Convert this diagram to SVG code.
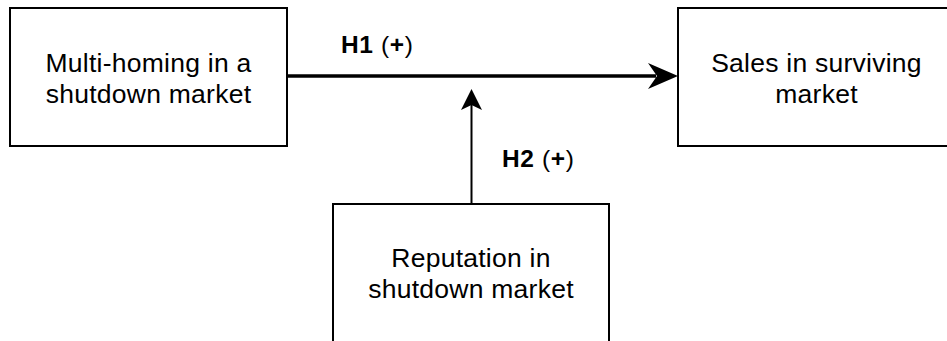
<svg xmlns="http://www.w3.org/2000/svg" width="947" height="341" viewBox="0 0 947 341">
<style>
.box{fill:#fff;stroke:#000;stroke-width:2}
.t{font-family:"Liberation Sans",Arial,Helvetica,sans-serif;font-size:26.5px;fill:#000;text-anchor:middle;letter-spacing:0.25px}
.l{font-family:"Liberation Sans",Arial,Helvetica,sans-serif;font-size:24.5px;fill:#000;letter-spacing:0.6px}
.b{font-weight:bold}
</style>
<rect width="947" height="341" fill="#fff"/>
<g id="connectors">
<g id="h1">
<line x1="287" y1="76" x2="656" y2="76" stroke="#000" stroke-width="3.5"/>
<path d="M678,76 L648,63 L657,76 L648,89 Z" fill="#000"/>
</g>
<g id="h2">
<line x1="471.5" y1="204" x2="471.5" y2="104" stroke="#000" stroke-width="2"/>
<path d="M471.5,89 L482,110 L471.5,105 L461,110 Z" fill="#000"/>
</g>
</g>
<g id="node-multihoming">
<rect class="box" x="10" y="8" width="277" height="138"/>
<text class="t" x="148.5" y="72">Multi-homing in a</text>
<text class="t" x="148.5" y="103">shutdown market</text>
</g>
<g id="node-sales">
<rect class="box" x="678" y="8" width="277" height="138"/>
<text class="t" x="816.5" y="72">Sales in surviving</text>
<text class="t" x="816.5" y="103">market</text>
</g>
<g id="node-reputation">
<rect class="box" x="333" y="204" width="276" height="150"/>
<text class="t" x="471" y="266.5">Reputation in</text>
<text class="t" x="471" y="298">shutdown market</text>
</g>
<g id="labels">
<text class="l" x="341" y="52.5"><tspan class="b">H1</tspan> (<tspan class="b">+</tspan>)</text>
<text class="l" x="502" y="166.5"><tspan class="b">H2</tspan> (<tspan class="b">+</tspan>)</text>
</g>
</svg>
